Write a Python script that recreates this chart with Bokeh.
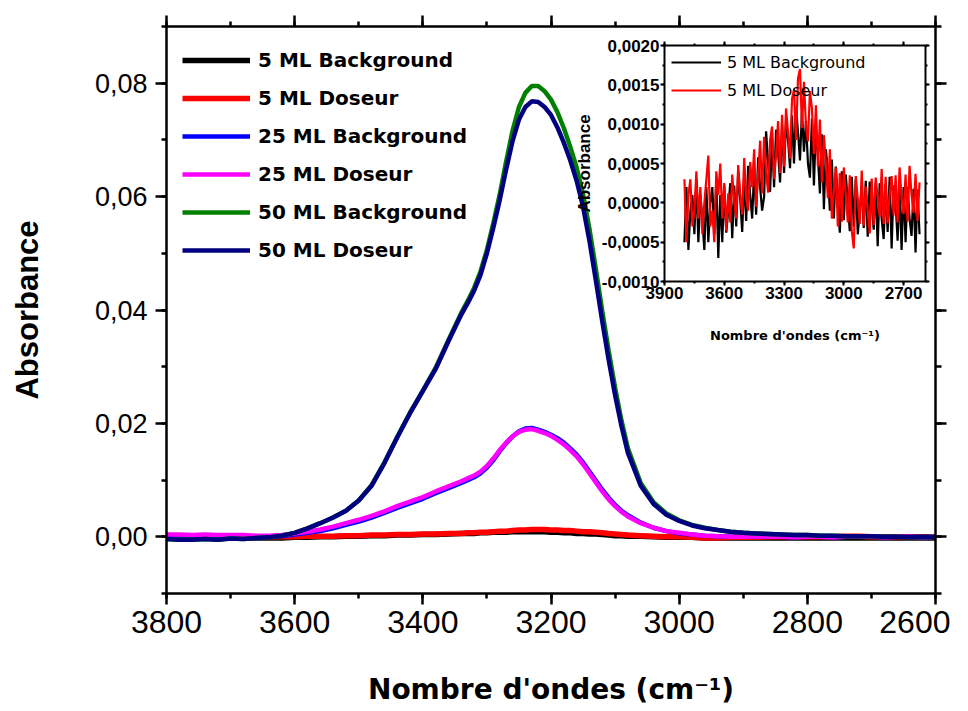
from bokeh.plotting import figure
from bokeh.models import (Range1d, LinearAxis, SingleIntervalTicker,
                          CustomJSTickFormatter, Legend, LegendItem)
from bokeh.embed import file_html
from bokeh.resources import INLINE

# ---------------- data ----------------
# main spectra: every 20 cm-1, every 10 cm-1 around the band maximum
wavenumber = list(range(3800, 3340, -20)) + list(range(3340, 3080, -10)) + list(range(3080, 2599, -20))

bg_5_main = [-0.0002, -0.0002, -0.0002, -0.0002, -0.0002, -0.0002, -0.0002, -0.0002, -0.0002, -0.0002,
             -0.0001, -0.0001, 0.0000, 0.0000, 0.0001, 0.0001, 0.0002, 0.0002, 0.0003, 0.0003,
             0.0004, 0.0004, 0.0005,
             0.0006, 0.0006, 0.0006, 0.0007, 0.0007, 0.0008, 0.0008, 0.0008, 0.0009, 0.0009,
             0.0009, 0.0009, 0.0009, 0.0009, 0.0008, 0.0008, 0.0007, 0.0007, 0.0006, 0.0006,
             0.0005, 0.0005, 0.0004, 0.0003, 0.0002, 0.0002,
             0.0001, 0.0001, 0.0000, -0.0001, -0.0001, -0.0001, -0.0002, -0.0002, -0.0002, -0.0002,
             -0.0002, -0.0002, -0.0002, -0.0002, -0.0002, -0.0002, -0.0002, -0.0002, -0.0002, -0.0002,
             -0.0002, -0.0002, -0.0002, -0.0002, -0.0002]
dos_5_main = [-0.0001, -0.0001, 0.0000, -0.0001, 0.0000, -0.0001, 0.0000, -0.0001, 0.0000, 0.0000,
              0.0000, 0.0001, 0.0001, 0.0001, 0.0002, 0.0002, 0.0003, 0.0003, 0.0004, 0.0004,
              0.0005, 0.0005, 0.0006,
              0.0006, 0.0007, 0.0007, 0.0008, 0.0008, 0.0009, 0.0010, 0.0010, 0.0011, 0.0012,
              0.0012, 0.0013, 0.0013, 0.0013, 0.0012, 0.0012, 0.0011, 0.0011, 0.0010, 0.0009,
              0.0009, 0.0008, 0.0007, 0.0006, 0.0005, 0.0004,
              0.0003, 0.0002, 0.0001, 0.0000, 0.0000, -0.0001, -0.0002, -0.0002, -0.0001, -0.0001,
              -0.0001, 0.0000, 0.0000, 0.0000, 0.0000, 0.0000, 0.0000, 0.0001, 0.0001, 0.0000,
              0.0000, 0.0000, 0.0000, 0.0000, 0.0000]
bg_25 = [0.0002, 0.0002, 0.0001, 0.0002, 0.0001, 0.0001, 0.0001, 0.0000, 0.0000, 0.0001,
         0.0004, 0.0007, 0.0010, 0.0015, 0.0021, 0.0027, 0.0034, 0.0042, 0.0051, 0.0059,
         0.0067, 0.0077, 0.0086,
         0.0095, 0.0100, 0.0105, 0.0112, 0.0122, 0.0135, 0.0151, 0.0165, 0.0177, 0.0186,
         0.0191, 0.0192, 0.0189, 0.0185, 0.0180, 0.0174, 0.0166, 0.0156, 0.0145, 0.0131,
         0.0115, 0.0099, 0.0083, 0.0069, 0.0056, 0.0046,
         0.0038, 0.0025, 0.0016, 0.0010, 0.0006, 0.0004, 0.0002, 0.0001, 0.0000, 0.0000,
         0.0001, 0.0000, 0.0000, -0.0001, 0.0000, 0.0000, -0.0001, 0.0000, 0.0000, 0.0000,
         -0.0001, 0.0000, 0.0000, -0.0001, 0.0000]
dos_25 = [0.0004, 0.0004, 0.0003, 0.0004, 0.0003, 0.0003, 0.0003, 0.0002, 0.0002, 0.0003,
          0.0006, 0.0009, 0.0013, 0.0018, 0.0024, 0.0030, 0.0037, 0.0045, 0.0054, 0.0062,
          0.0070, 0.0080, 0.0089,
          0.0098, 0.0103, 0.0108, 0.0115, 0.0125, 0.0138, 0.0153, 0.0166, 0.0177, 0.0185,
          0.0189, 0.0190, 0.0187, 0.0183, 0.0178, 0.0171, 0.0163, 0.0153, 0.0142, 0.0128,
          0.0112, 0.0096, 0.0080, 0.0066, 0.0054, 0.0044,
          0.0036, 0.0024, 0.0016, 0.0010, 0.0007, 0.0004, 0.0002, 0.0001, 0.0000, 0.0000,
          0.0001, 0.0000, 0.0000, -0.0001, 0.0000, 0.0000, -0.0001, 0.0000, 0.0000, 0.0000,
          -0.0001, 0.0000, 0.0000, -0.0001, 0.0000]
bg_50 = [-0.0004, -0.0005, -0.0005, -0.0004, -0.0005, -0.0003, -0.0004, -0.0002, -0.0001, 0.0002,
         0.0007, 0.0015, 0.0024, 0.0034, 0.0046, 0.0064, 0.0091, 0.0131, 0.0176, 0.0219,
         0.0258, 0.0298, 0.0347,
         0.0395, 0.0416, 0.0439, 0.0468, 0.0506, 0.0553, 0.0604, 0.0662, 0.0716, 0.0758,
         0.0783, 0.0795, 0.0795, 0.0786, 0.0771, 0.0749, 0.0721, 0.0688, 0.0651, 0.0604,
         0.0543, 0.0472, 0.0398, 0.0328, 0.0263, 0.0205,
         0.0156, 0.0095, 0.0061, 0.0041, 0.0029, 0.0021, 0.0016, 0.0012, 0.0009, 0.0007,
         0.0006, 0.0005, 0.0004, 0.0003, 0.0003, 0.0002, 0.0002, 0.0001, 0.0001, 0.0001,
         0.0000, 0.0000, -0.0001, 0.0000, -0.0001]
dos_50 = [-0.0004, -0.0005, -0.0005, -0.0004, -0.0005, -0.0003, -0.0004, -0.0002, -0.0001, 0.0002,
          0.0007, 0.0015, 0.0024, 0.0034, 0.0046, 0.0064, 0.0090, 0.0130, 0.0175, 0.0218,
          0.0257, 0.0296, 0.0345,
          0.0392, 0.0412, 0.0434, 0.0462, 0.0500, 0.0545, 0.0594, 0.0648, 0.0698, 0.0736,
          0.0758, 0.0768, 0.0767, 0.0758, 0.0744, 0.0722, 0.0695, 0.0664, 0.0628, 0.0582,
          0.0522, 0.0452, 0.0380, 0.0312, 0.0250, 0.0195,
          0.0148, 0.0090, 0.0058, 0.0039, 0.0028, 0.0020, 0.0015, 0.0012, 0.0009, 0.0007,
          0.0006, 0.0005, 0.0004, 0.0003, 0.0003, 0.0002, 0.0002, 0.0001, 0.0001, 0.0001,
          0.0000, 0.0000, -0.0001, 0.0000, -0.0001]

# 5 ML spectra as seen in the inset (noisy), every 10 cm-1 from 3800 to 2620
wavenumber_5 = list(range(3800, 2619, -10))
bg_5 = [-0.0005, 0.0002, -0.0006, -0.0001, 0.0001, -0.0004, 0.0003, -0.0005, 0.0001, -0.0002,
        -0.0006, 0.0002, -0.0005, 0.0, 0.0002, -0.0004, 0.0003, -0.0007, 0.0001, -0.0005,
        0.00022, -0.00038, -0.0001, 0.00025, -0.00045, 0.00022, -0.0003, 0.0004, 0.00005, -0.00037,
        0.00033, -0.00023, 0.00047, 0.0001, -0.0002, 0.00042, -0.00015, 0.00058, 0.0002, -0.0001,
        0.00008, 0.00091, 0.0005, 0.00014, 0.00087, 0.0002, 0.00093, 0.00065, 0.00026, 0.00099,
        0.00038, 0.00105, 0.0008, 0.00044, 0.00111, 0.0005, 0.00122, 0.0009, 0.00054, 0.00116,
        0.00065, 0.00104, 0.0005, 0.00032, 0.00107, 0.00022, 0.00098, 0.0006, 0.00012, 0.00087,
        -0.00008, 0.00068, 0.0004, -0.0001, 0.00055, -0.0002, 0.00046, 0.00005, -0.00038, 0.0004,
        -0.00022, 0.00036, 0.0, -0.00036, 0.00033, -0.0003, 0.0003, -0.0004, -0.0001, 0.0002,
        -0.00032, 0.00028, -0.00043, 0.00027, 0.0, -0.00034, 0.00026, -0.00055, 0.00025, -0.0002,
        -0.00046, 0.00024, -0.00037, 0.00033, -0.00058, 0.00022, 0.0, -0.00048, 0.00021, -0.0006,
        0.0002, -0.0005, 0.0002, -0.0002, -0.00042, 0.00018, -0.00063, 0.00017, -0.0004]
dos_5 = [0.0003, -0.0005, 0.0001, 0.0003, -0.0003, -0.0001, 0.0004, -0.0002, 0.0002, -0.0004,
         0.0, 0.0003, 0.0006, -0.0003, -0.0001, -0.0005, 0.0004, 0.0001, 0.0005, -0.0002,
         0.00025, -0.00036, 0.00012, -0.00025, 0.00036, 0.00002, -0.0002, 0.00048, 0.0001, -0.00015,
         0.00057, 0.00005, -0.0001, 0.00052, 0.0002, 0.00068, -0.00005, 0.00035, 0.00079, 0.00012,
         0.00084, 0.0004, 0.00013, 0.0008, 0.00097, 0.0003, 0.0006, 0.00104, 0.00038, 0.00112,
         0.00046, 0.0012, 0.0009, 0.00056, 0.00132, 0.00144, 0.0008, 0.00158, 0.0017, 0.00095,
         0.00154, 0.00098, 0.00078, 0.00142, 0.0012, 0.00062, 0.00124, 0.00046, 0.00106, 0.00026,
         0.00086, 0.0005, 0.00006, 0.00068, -0.0002, 0.00015, 0.00045, -0.0003, 0.00038, -0.00024,
         0.00045, 0.0001, -0.00025, 0.00035, -0.00036, -0.00058, 0.00034, 0.00005, -0.00027, 0.00041,
         -0.00029, 0.00021, -0.0001, -0.00039, 0.00031, -0.00028, 0.00032, 0.00008, -0.00018, 0.00043,
         -0.00027, 0.00033, -0.00026, 0.0001, 0.00034, -0.00016, 0.00035, -0.00025, 0.00045, 0.00005,
         -0.00014, 0.00036, -0.00024, 0.00047, 0.0001, -0.00013, 0.00037, -0.00023, 0.00026]

series_labels = ["5 ML Background", "5 ML Doseur", "25 ML Background",
                 "25 ML Doseur", "50 ML Background", "50 ML Doseur"]
series_colors = ["#000000", "#ff0000", "#0000ff", "#ff00ff", "#008000", "#000080"]

x_label = "Nombre d'ondes (cm⁻¹)"
y_label = "Absorbance"

# ---------------- helpers ----------------
def style_axis(ax, major_out, minor_out, lw):
    ax.axis_line_color = "black"
    ax.axis_line_width = lw
    ax.major_tick_line_color = "black"
    ax.minor_tick_line_color = "black"
    ax.major_tick_line_width = lw
    ax.minor_tick_line_width = lw
    ax.major_tick_in = 0
    ax.minor_tick_in = 0
    ax.major_tick_out = major_out
    ax.minor_tick_out = minor_out
    ax.major_label_text_color = "black"
    ax.axis_label_text_color = "black"


def blank_axis(ax):
    ax.formatter = CustomJSTickFormatter(code="return '';")
    ax.major_label_text_font_size = "0px"
    ax.major_label_standoff = 0


comma2 = CustomJSTickFormatter(code="return tick.toFixed(2).replace('.', ',');")
comma4 = CustomJSTickFormatter(code="return tick.toFixed(4).replace('.', ',');")

# ---------------- main figure ----------------
p = figure(width=950, height=708, x_range=Range1d(3800, 2600), y_range=Range1d(-0.01, 0.09),
           output_backend="svg", toolbar_location=None,
           min_border_left=166, min_border_right=15, min_border_top=26, min_border_bottom=112)
p.xgrid.visible = False
p.ygrid.visible = False
p.outline_line_color = None
p.background_fill_color = "white"
p.border_fill_color = "white"

xt = SingleIntervalTicker(interval=200, num_minor_ticks=2)
yt = SingleIntervalTicker(interval=0.02, num_minor_ticks=2)

xa = p.xaxis[0]
xa.ticker = xt
style_axis(xa, 11, 5, 2.5)
xa.major_label_text_font = "Liberation Sans"
xa.major_label_text_font_size = "32px"
xa.major_label_standoff = 6
xa.axis_label = x_label
xa.axis_label_text_font = "DejaVu Sans"
xa.axis_label_text_font_style = "bold"
xa.axis_label_text_font_size = "28px"
xa.axis_label_standoff = 37

ya = p.yaxis[0]
ya.ticker = yt
ya.formatter = comma2
style_axis(ya, 11, 5, 2.5)
ya.major_label_text_font = "Liberation Sans"
ya.major_label_text_font_size = "27px"
ya.major_label_standoff = 8
ya.axis_label = y_label
ya.axis_label_text_font = "Liberation Sans"
ya.axis_label_text_font_style = "bold"
ya.axis_label_text_font_size = "31px"
ya.axis_label_standoff = 47

top = LinearAxis(ticker=xt)
style_axis(top, 11, 5, 2.5)
blank_axis(top)
p.add_layout(top, "above")
right = LinearAxis(ticker=yt)
style_axis(right, 11, 6, 2.5)
blank_axis(right)
p.add_layout(right, "right")

ys_main = [bg_5_main, dos_5_main, bg_25, dos_25, bg_50, dos_50]
renderers = []
for i, (lab, col, ys) in enumerate(zip(series_labels, series_colors, ys_main)):
    lw = 5.5 if i < 2 else 4.5
    r = p.line(wavenumber, ys, line_color=col, line_width=lw)
    renderers.append(r)

legend = Legend(items=[LegendItem(label=lab, renderers=[r]) for lab, r in zip(series_labels, renderers)],
                location="top_left")
legend.label_text_font = "DejaVu Sans"
legend.label_text_font_style = "bold"
legend.label_text_font_size = "20px"
legend.label_text_color = "black"
legend.glyph_width = 68
legend.glyph_height = 36
legend.spacing = 2
legend.padding = 16
legend.margin = 0
legend.label_standoff = 8
legend.border_line_alpha = 0
legend.background_fill_alpha = 0
p.add_layout(legend)

# ---------------- inset figure ----------------
ins = figure(width=361, height=311, x_range=Range1d(3900, 2590), y_range=Range1d(-0.001, 0.002),
             output_backend="svg", toolbar_location=None,
             min_border_left=94, min_border_right=6, min_border_top=10, min_border_bottom=65)
ins.styles = {"position": "absolute", "left": "570px", "top": "35px"}
ins.xgrid.visible = False
ins.ygrid.visible = False
ins.outline_line_color = None
ins.background_fill_color = "white"
ins.border_fill_color = None

ixt = SingleIntervalTicker(interval=300, num_minor_ticks=2)
iyt = SingleIntervalTicker(interval=0.0005, num_minor_ticks=2)

ixa = ins.xaxis[0]
ixa.ticker = ixt
style_axis(ixa, 4, 2, 2)
ixa.major_label_text_font = "Liberation Sans"
ixa.major_label_text_font_style = "bold"
ixa.major_label_text_font_size = "17px"
ixa.major_label_standoff = 1
ixa.axis_label = x_label
ixa.axis_label_text_font = "DejaVu Sans"
ixa.axis_label_text_font_style = "bold"
ixa.axis_label_text_font_size = "13px"
ixa.axis_label_standoff = 26

iya = ins.yaxis[0]
iya.ticker = iyt
iya.formatter = comma4
style_axis(iya, 4, 2, 2)
iya.major_label_text_font = "Liberation Sans"
iya.major_label_text_font_style = "bold"
iya.major_label_text_font_size = "17px"
iya.major_label_standoff = 1
iya.axis_label = y_label
iya.axis_label_text_font = "Liberation Sans"
iya.axis_label_text_font_style = "bold"
iya.axis_label_text_font_size = "17px"
iya.axis_label_standoff = 5

itop = LinearAxis(ticker=ixt)
style_axis(itop, 4, 2, 2)
blank_axis(itop)
ins.add_layout(itop, "above")
iright = LinearAxis(ticker=iyt)
style_axis(iright, 4, 2, 2)
blank_axis(iright)
ins.add_layout(iright, "right")

ir = []
for lab, col, ys in zip(series_labels[:2], series_colors[:2], [bg_5, dos_5]):
    ir.append(ins.line(wavenumber_5, ys, line_color=col, line_width=2.2))

ileg = Legend(items=[LegendItem(label=lab, renderers=[r]) for lab, r in zip(series_labels[:2], ir)],
              location="top_left")
ileg.label_text_font = "DejaVu Sans"
ileg.label_text_font_size = "16px"
ileg.label_text_color = "black"
ileg.glyph_width = 50
ileg.glyph_height = 20
ileg.spacing = 8
ileg.padding = 5
ileg.margin = 2
ileg.label_standoff = 6
ileg.border_line_alpha = 0
ileg.background_fill_alpha = 0
ins.add_layout(ileg)

open("out.html", "w").write(file_html([p, ins], INLINE))
